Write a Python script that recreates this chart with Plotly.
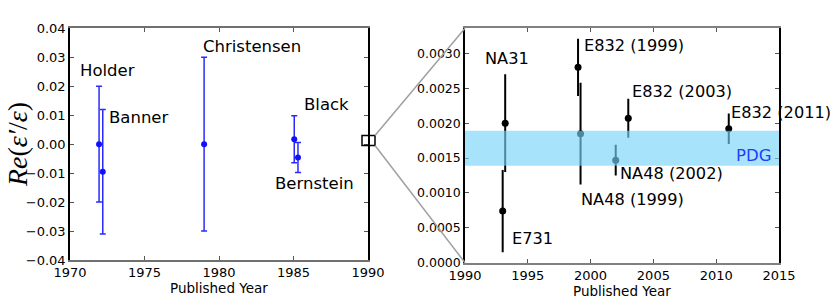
import plotly.graph_objects as go

W, H = 830, 302

# ---- left panel data (early experiments) ----
early_names = ["Holder", "Banner", "Christensen", "Black", "Bernstein"]
early_year = [1971.95, 1972.2, 1979.0, 1985.05, 1985.3]
early_val = [0.0, -0.0095, 0.0, 0.0017, -0.0046]
early_err = [0.020, 0.0215, 0.030, 0.0081, 0.0052]
early_lab_x = [1972.5, 1974.6, 1982.2, 1987.2, 1986.4]
early_lab_y = [0.0253, 0.0091, 0.0337, 0.0136, -0.0137]

# ---- right panel data (modern experiments) ----
mod_names = ["NA31", "E731", "E832 (1999)", "NA48 (1999)", "NA48 (2002)", "E832 (2003)", "E832 (2011)"]
mod_year = [1993.2, 1993.0, 1999.0, 1999.2, 2002.0, 2003.0, 2011.0]
mod_val = [0.00200, 0.00074, 0.00280, 0.00185, 0.00147, 0.00207, 0.00192]
mod_err = [0.00070, 0.00059, 0.00041, 0.00073, 0.00022, 0.00028, 0.00022]
mod_lab_x = [1993.35, 1995.4, 1999.3, 1999.1, 2002.2, 2003.15, 2011.05]
mod_lab_y = [0.00293, 0.00034, 0.00311, 0.00091, 0.00128, 0.00246, 0.00216]
mod_lab_anchor = ["center", "center", "left", "left", "left", "left", "left"]

pdg_low, pdg_high = 0.00139, 0.00189

left_xticks = [1970, 1975, 1980, 1985, 1990]
left_yticks = [-0.04, -0.03, -0.02, -0.01, 0.0, 0.01, 0.02, 0.03, 0.04]
right_xticks = [1990, 1995, 2000, 2005, 2010, 2015]
right_yticks = [0.0, 0.0005, 0.0010, 0.0015, 0.0020, 0.0025, 0.0030]

FONT = "DejaVu Sans"

def px_x(p):
    return p / W

def px_y(p):
    return 1 - p / H

fig = go.Figure()

fig.add_trace(go.Scatter(
    x=early_year, y=early_val, mode="markers",
    marker=dict(color="#1010ff", size=6),
    error_y=dict(type="data", array=early_err, visible=True, color="#2a2aff", thickness=1.5, width=3),
    xaxis="x", yaxis="y", showlegend=False, cliponaxis=False,
))

fig.add_trace(go.Scatter(
    x=mod_year, y=mod_val, mode="markers",
    marker=dict(color="black", size=7),
    error_y=dict(type="data", array=mod_err, visible=True, color="black", thickness=2, width=0),
    xaxis="x2", yaxis="y2", showlegend=False,
))

ax_common = dict(
    showgrid=False, zeroline=False, ticks="inside", ticklen=4, tickwidth=1,
    tickcolor="#555", showline=True, linewidth=1.5, automargin=False,
    tickfont=dict(family=FONT, size=13, color="black"),
)

L_dom_x = [px_x(70), px_x(368)]
L_dom_y = [px_y(260), px_y(28.3)]
R_dom_x = [px_x(465), px_x(779)]
R_dom_y = [px_y(262.7), px_y(28.3)]

fig.update_layout(
    width=W, height=H, margin=dict(l=0, r=0, t=0, b=0, pad=0, autoexpand=False),
    paper_bgcolor="white", plot_bgcolor="white", showlegend=False,
    xaxis=dict(domain=L_dom_x, range=[1970, 1990], tickvals=left_xticks, anchor="y",
               linecolor="#707070", mirror="ticks", **ax_common),
    yaxis=dict(domain=L_dom_y, range=[-0.04, 0.04], tickvals=left_yticks, tickformat=".2f",
               anchor="x", linecolor="black", mirror="ticks", **ax_common),
    xaxis2=dict(domain=R_dom_x, range=[1990, 2015], tickvals=right_xticks, anchor="y2",
                linecolor="#808080", mirror="ticks", **ax_common),
    yaxis2=dict(domain=R_dom_y, range=[0, 0.00336], tickvals=right_yticks, tickformat=".4f",
                anchor="x2", linecolor="black", mirror="ticks",
                **{**ax_common, "tickfont": dict(family=FONT, size=12.5, color="black")}),
)

# PDG band (drawn above the points, semi-transparent)
fig.add_shape(type="rect", xref="x2", yref="y2", x0=1990, x1=2015, y0=pdg_low, y1=pdg_high,
              fillcolor="rgba(117,213,249,0.64)", line=dict(width=0), layer="above")

# zoom square and connector lines
fig.add_shape(type="rect", xref="paper", yref="paper",
              x0=px_x(362), x1=px_x(375), y0=px_y(145.5), y1=px_y(135.5),
              line=dict(color="black", width=1.5), fillcolor="rgba(0,0,0,0)", layer="above")
fig.add_shape(type="line", xref="paper", yref="paper",
              x0=px_x(375), y0=px_y(135.5), x1=px_x(465), y1=px_y(28.3),
              line=dict(color="#a0a0a0", width=1.5))
fig.add_shape(type="line", xref="paper", yref="paper",
              x0=px_x(375), y0=px_y(145.5), x1=px_x(465), y1=px_y(262.7),
              line=dict(color="#a0a0a0", width=1.5))

# labels
for n, x, y in zip(early_names, early_lab_x, early_lab_y):
    fig.add_annotation(x=x, y=y, xref="x", yref="y", text=n, showarrow=False,
                       xanchor="center", yanchor="middle",
                       font=dict(family=FONT, size=16.5, color="black"))
for n, x, y, a in zip(mod_names, mod_lab_x, mod_lab_y, mod_lab_anchor):
    fig.add_annotation(x=x, y=y, xref="x2", yref="y2", text=n, showarrow=False,
                       xanchor=a, yanchor="middle",
                       font=dict(family=FONT, size=16.2, color="black"))
fig.add_annotation(x=2014.55, y=0.00154, xref="x2", yref="y2", text="PDG", showarrow=False,
                   xanchor="right", yanchor="middle",
                   font=dict(family=FONT, size=16.5, color="#1f3dff"))

# axis titles
fig.add_annotation(x=px_x(219), y=px_y(288), xref="paper", yref="paper", text="Published Year",
                   showarrow=False, xanchor="center", yanchor="middle",
                   font=dict(family=FONT, size=13.5, color="black"))
fig.add_annotation(x=px_x(622), y=px_y(291), xref="paper", yref="paper", text="Published Year",
                   showarrow=False, xanchor="center", yanchor="middle",
                   font=dict(family=FONT, size=13.5, color="black"))
fig.add_annotation(x=px_x(17), y=px_y(145), xref="paper", yref="paper",
                   text="<i>Re</i>(<i>ε′</i>/<i>ε</i>)", textangle=-90,
                   showarrow=False, xanchor="center", yanchor="middle",
                   font=dict(family="Liberation Serif", size=28, color="black"))

fig.write_html("out.html", config={"displayModeBar": False},
               post_script="document.body.style.margin='0px';")
